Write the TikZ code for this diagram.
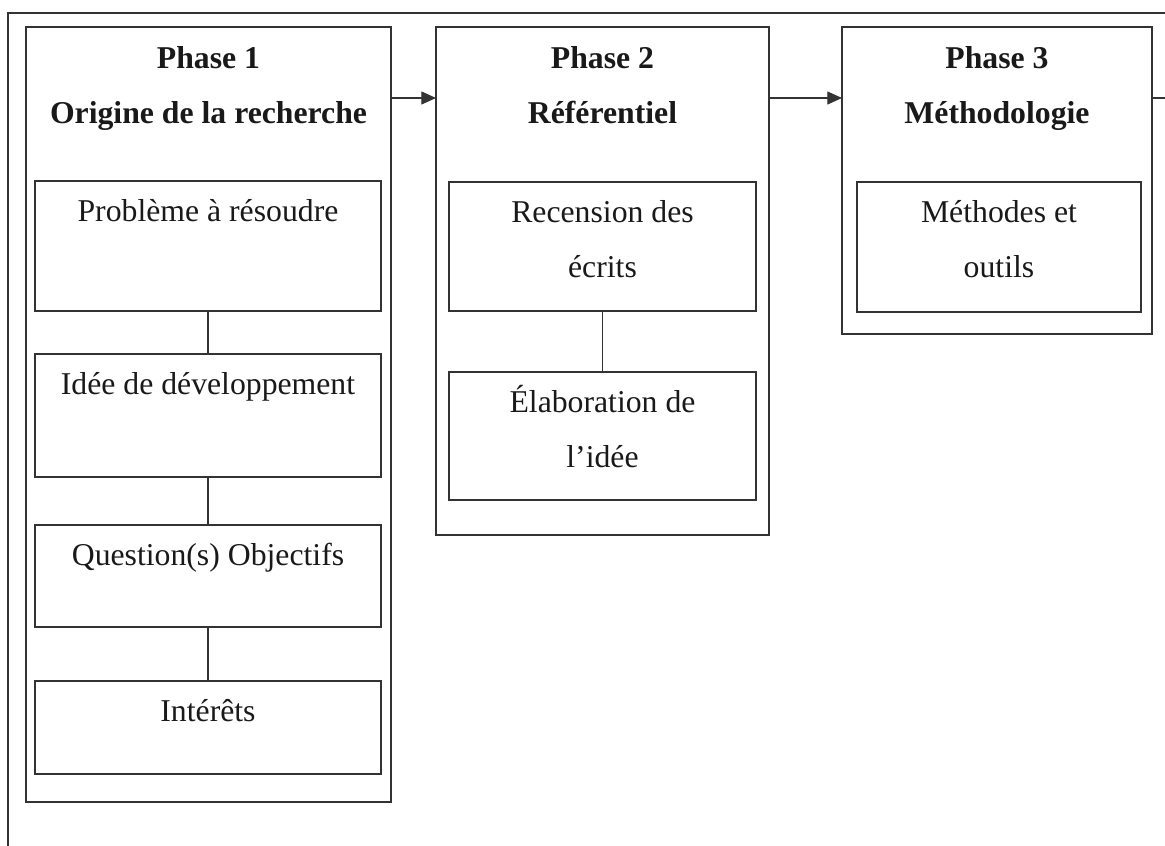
\documentclass[tikz,border=0pt]{standalone}
\usepackage{fontspec}
\setmainfont{Liberation Serif}
\usetikzlibrary{arrows.meta, positioning}

\begin{document}
\begin{tikzpicture}[x=0.75pt, y=-0.75pt,
    phasebox/.style={draw=black!80, line width=0.8pt, inner sep=0pt, outer sep=0pt},
    itembox/.style={phasebox},
    lbl/.style={font=\fontsize{23.8}{41.25}\selectfont, align=center, inner sep=0pt, text=black!90},
    ttl/.style={lbl, font=\fontsize{23.8}{41.25}\selectfont\bfseries},
    link/.style={draw=black!80, line width=0.8pt},
    arr/.style={link, -{Triangle[length=11pt, width=9.75pt]}}]
  \useasboundingbox (0,0) rectangle (1165,846);
  % page frame (cut by the crop)
  \draw[link] (8,846) -- (8,13) -- (1165,13);
  % phases
  \node[phasebox, minimum width=273.75pt, minimum height=581.25pt] (p1) at (208.5,414.5) {};
  \node[phasebox, minimum width=249.75pt, minimum height=381pt] (p2) at (602.5,281) {};
  \node[phasebox, minimum width=232.5pt, minimum height=230.25pt] (p3) at (997,180.5) {};
  % base sits on the last line
  \node[ttl, below=72pt of p1.north, anchor=base] (t1) {Phase 1\\Origine de la recherche};
  \node[ttl, below=72pt of p2.north, anchor=base] (t2) {Phase 2\\Référentiel};
  \node[ttl, below=72pt of p3.north, anchor=base] (t3) {Phase 3\\Méthodologie};
  % phase 1 items
  \foreach \n/\y/\h/\t in {a/246/97.5/Problème à résoudre, b/415.5/92.25/Idée de développement,
      c/576/76.5/Question(s) Objectifs, d/727.5/69.75/Intérêts} {
    \node[itembox, minimum width=259.5pt, minimum height=\h pt] (p1\n) at (208,\y) {};
    \node[lbl, below=30pt of p1\n.north, anchor=base] (l1\n) {\t};
  }
  \draw[link] (p1a) -- (p1b);
  \draw[link] (p1b) -- (p1c);
  \draw[link] (p1c) -- (p1d);
  % phase 2 items
  \node[itembox, minimum width=230.25pt, minimum height=96.75pt] (p2a) at (602.5,246.5) {};
  \node[itembox, minimum width=230.25pt, minimum height=96pt] (p2b) at (602.5,436) {};
  \node[lbl, below=71.25pt of p2a.north, anchor=base] (l2a) {Recension des\\écrits};
  \node[lbl, below=71.25pt of p2b.north, anchor=base] (l2b) {Élaboration de\\l’idée};
  \draw[link] (p2a) -- (p2b);
  % phase 3 items
  \node[itembox, minimum width=213pt, minimum height=97.5pt] (p3a) at (999,247) {};
  \node[lbl, below=71.25pt of p3a.north, anchor=base] (l3a) {Méthodes et\\outils};
  % arrows between phases
  \coordinate (ay) at (0,98);
  \coordinate (out) at (1165,98);
  \draw[arr] (p1.east |- ay) -- (p2.west |- ay);
  \draw[arr] (p2.east |- ay) -- (p3.west |- ay);
  \draw[link] (p3.east |- ay) -- (out);
\end{tikzpicture}
\end{document}
